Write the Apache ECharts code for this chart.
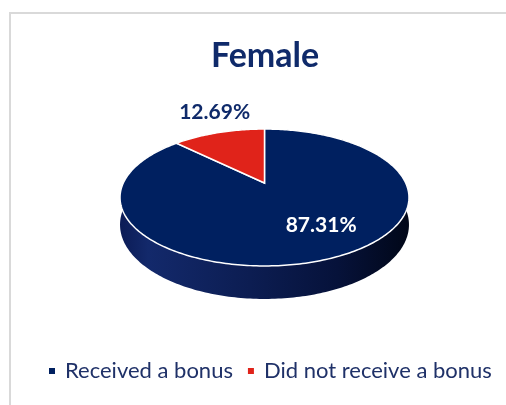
<!DOCTYPE html>
<html>
<head>
<meta charset="utf-8">
<script src="https://cdn.jsdelivr.net/npm/echarts@6/dist/echarts.min.js"></script>
<style>
  html, body { margin: 0; padding: 0; background: #fff; }
  #chart { width: 506px; height: 405px; }
</style>
</head>
<body>
<div id="chart"></div>
<script>
var categories = ["Received a bonus", "Did not receive a bonus"];
var shares = [87.31, 12.69];
var shareLabels = ["87.31%", "12.69%"];
var title = "Female";

// look of the tilted pie
var topColors = ["#002060", "#e0231a"];
var sideColors = [
  ["#0b1b55", "#13296b", "#0c1d52", "#06123a", "#010718"],
  ["#8a140f", "#a01a12", "#7a120c", "#5a0c08", "#300604"]
];
var labelPlace = ["inside", "outside"];
var cx = 264.5, cy = 183, rx = 141.2, ry = 65.4, persp = 0.2117, depth = 26;

var total = shares.reduce(function (a, b) { return a + b; }, 0);

function project(phi, r, drop) {
  var u = Math.sin(phi) * r;
  var v = Math.cos(phi) * r;
  var s = 1 / (1 + persp * v);
  return [cx + rx * u * s, cy - ry * v * s + (drop || 0) * s];
}

function makeRender(idx) {
  return function (params, api) {
    var val = api.value(0);
    var start = api.value(1);
    var a0 = (start / total) * Math.PI * 2;
    var a1 = ((start + val) / total) * Math.PI * 2;
    var n = Math.max(2, Math.ceil((a1 - a0) / (Math.PI / 180)));
    var arc = [], low = [];
    for (var i = 0; i <= n; i++) {
      var a = a0 + ((a1 - a0) * i) / n;
      arc.push(project(a, 1));
      low.push(project(a, 1, depth));
    }
    var top = [project(0, 0)].concat(arc);
    var side = arc.concat(low.reverse());
    var stops = sideColors[idx];
    var mid = (a0 + a1) / 2;
    var lp, vAlign, color;
    if (labelPlace[idx] === "inside") {
      var p1 = project(mid, 0.86);
      var p2 = project(mid, 0.62);
      lp = [p1[0], p2[1]];
      vAlign = "middle";
      color = "#ffffff";
    } else {
      lp = project(mid, 1);
      lp = [lp[0] - 4, lp[1] - 10];
      vAlign = "bottom";
      color = "#0f2a6a";
    }
    return {
      type: "group",
      children: [
        {
          type: "polygon",
          z2: 1,
          shape: { points: side },
          style: {
            fill: {
              type: "linear",
              x: cx - rx * 1.03, y: 0, x2: cx + rx * 1.03, y2: 0,
              global: true,
              colorStops: [
                { offset: 0, color: stops[0] },
                { offset: 0.1, color: stops[1] },
                { offset: 0.45, color: stops[2] },
                { offset: 0.75, color: stops[3] },
                { offset: 1, color: stops[4] }
              ]
            }
          }
        },
        {
          type: "polygon",
          z2: 10,
          shape: { points: top },
          style: { fill: api.visual("color"), stroke: "#ffffff", lineWidth: 1.5 }
        },
        {
          type: "text",
          z2: 20,
          style: {
            text: shareLabels[idx],
            x: lp[0],
            y: lp[1],
            fill: color,
            font: "bold 21px Lato",
            align: "center",
            verticalAlign: vAlign
          }
        }
      ]
    };
  };
}

var series = [];
var acc = 0;
categories.forEach(function (name, i) {
  series.push({
    type: "custom",
    name: name,
    coordinateSystem: "none",
    itemStyle: { color: topColors[i] },
    renderItem: makeRender(i),
    data: [[shares[i], acc]]
  });
  acc += shares[i];
});

var chart = echarts.init(document.getElementById("chart"));
chart.setOption({
  animation: false,
  title: {
    text: title,
    left: 206,
    top: 34,
    textStyle: {
      color: "#0f2a6a",
      fontFamily: "Lato",
      fontWeight: "bold",
      fontSize: 34
    }
  },
  legend: {
    data: categories,
    left: 44,
    top: 355,
    icon: "rect",
    itemWidth: 6,
    itemHeight: 6,
    itemGap: 15,
    textStyle: {
      color: "#1f3168",
      fontFamily: "Lato",
      fontSize: 22,
      padding: [0, 0, 0, 5]
    }
  },
  graphic: [
    {
      type: "rect",
      shape: { x: 10, y: 13, width: 600, height: 600 },
      style: { fill: null, stroke: "#d9d9d9", lineWidth: 2 },
      silent: true
    }
  ],
  series: series
});
</script>
</body>
</html>
